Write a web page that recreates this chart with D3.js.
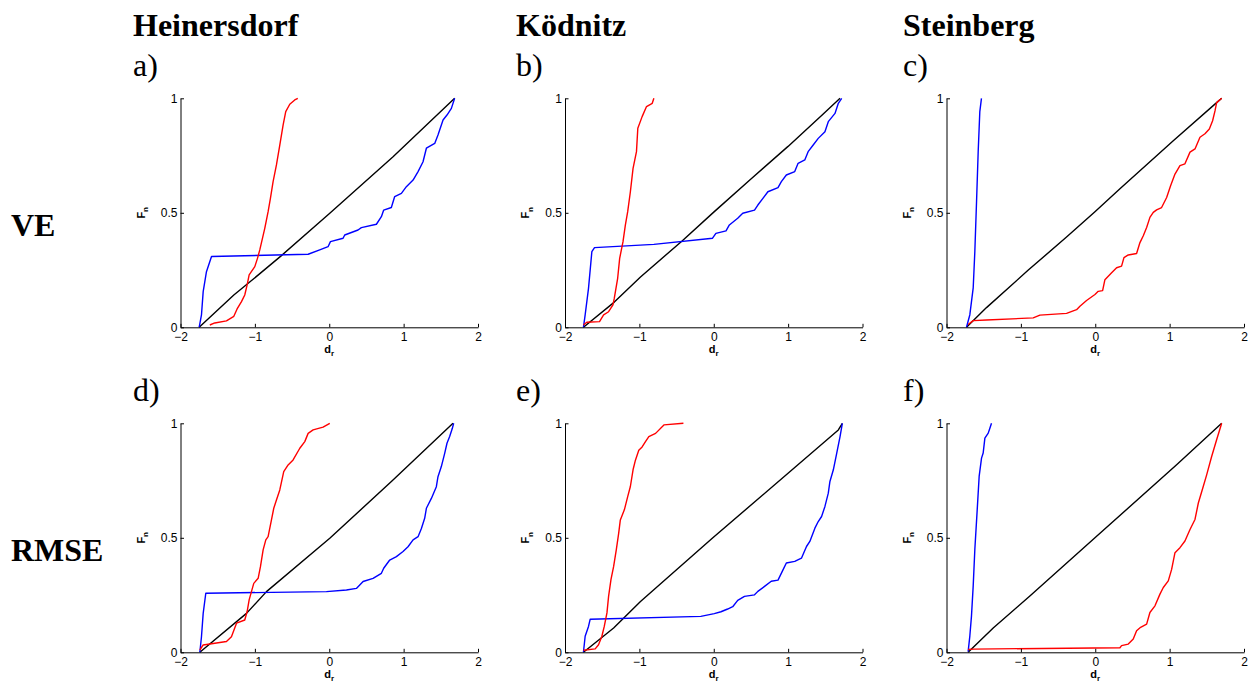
<!DOCTYPE html>
<html>
<head>
<meta charset="utf-8">
<script src="https://cdn.jsdelivr.net/npm/d3@7"></script>
<style>
  html, body { margin: 0; padding: 0; background: #fff; }
  svg { display: block; }
  .tick text { font-family: "Liberation Sans", Arial, sans-serif; font-size: 12px; fill: #000; }
  .axis path, .axis line { stroke: #000; stroke-width: 1; }
  .head { font-family: "Liberation Serif", "Times New Roman", serif; fill: #000; }
  .alabel { font-family: "Liberation Sans", Arial, sans-serif; font-weight: bold; fill: #000; }
</style>
</head>
<body>
<svg id="chart" width="1254" height="686"></svg>
<script>
// Categories and tick labels
const stations = ["Heinersdorf", "Ködnitz", "Steinberg"];
const metrics = ["VE", "RMSE"];
const panelLetters = ["a)", "b)", "c)", "d)", "e)", "f)"];
const xTicks = [-2, -1, 0, 1, 2];
const xTickLabels = ["\u22122", "\u22121", "0", "1", "2"];
const yTicks = [0, 0.5, 1];
const yTickLabels = ["0", "0.5", "1"];

// Empirical distribution functions F_n(d_r), pairs of [d_r, F_n]
const heinersdorfVE_red = [[-1.606,0.010],[-1.539,0.019],[-1.382,0.028],[-1.283,0.048],[-1.239,0.080],[-1.180,0.112],[-1.136,0.141],[-1.104,0.185],[-1.077,0.229],[-1.001,0.265],[-0.965,0.301],[-0.934,0.338],[-0.867,0.432],[-0.822,0.505],[-0.791,0.563],[-0.755,0.636],[-0.710,0.709],[-0.665,0.796],[-0.620,0.884],[-0.585,0.942],[-0.531,0.974],[-0.464,0.993],[-0.423,1.0]];
const heinersdorfVE_blue = [[-1.749,0],[-1.718,0.054],[-1.695,0.156],[-1.651,0.243],[-1.583,0.309],[-0.284,0.319],[-0.128,0.338],[-0.016,0.352],[0.016,0.374],[0.186,0.389],[0.208,0.403],[0.387,0.425],[0.432,0.435],[0.634,0.450],[0.701,0.483],[0.732,0.512],[0.835,0.523],[0.880,0.571],[0.970,0.585],[1.037,0.614],[1.127,0.643],[1.194,0.680],[1.261,0.723],[1.306,0.782],[1.418,0.803],[1.462,0.840],[1.530,0.905],[1.583,0.927],[1.642,0.956],[1.686,1.0]];
const heinersdorfVE_black = [[-1.749,0],[-1.283,0.141],[-1.090,0.192],[-0.643,0.313],[0.007,0.498],[0.858,0.745],[1.686,1.0]];

const koednitzVE_red = [[-1.752,0.010],[-1.707,0.022],[-1.536,0.025],[-1.481,0.054],[-1.414,0.068],[-1.355,0.098],[-1.337,0.127],[-1.292,0.214],[-1.265,0.301],[-1.220,0.374],[-1.188,0.447],[-1.157,0.505],[-1.121,0.592],[-1.085,0.694],[-1.039,0.767],[-1.021,0.869],[-0.963,0.920],[-0.904,0.964],[-0.827,0.978],[-0.805,1.0]];
const koednitzVE_blue = [[-1.752,0],[-1.729,0.054],[-1.684,0.170],[-1.639,0.330],[-1.603,0.348],[-0.805,0.362],[-0.016,0.389],[0.029,0.410],[0.165,0.421],[0.210,0.447],[0.322,0.476],[0.390,0.498],[0.548,0.512],[0.593,0.534],[0.661,0.563],[0.728,0.592],[0.864,0.610],[0.909,0.636],[0.976,0.665],[1.089,0.680],[1.134,0.716],[1.224,0.731],[1.269,0.767],[1.337,0.796],[1.405,0.825],[1.495,0.854],[1.540,0.898],[1.630,0.934],[1.675,0.978],[1.720,1.0]];
const koednitzVE_black = [[-1.752,0],[-1.337,0.110],[-0.985,0.220],[-0.422,0.378],[0.000,0.503],[0.500,0.648],[0.999,0.790],[1.450,0.925],[1.698,1.0]];

const steinbergVE_red = [[-1.709,0.012],[-1.641,0.029],[-1.462,0.032],[-0.834,0.041],[-0.744,0.053],[-0.386,0.061],[-0.251,0.077],[-0.206,0.092],[-0.117,0.117],[-0.004,0.143],[0.040,0.157],[0.099,0.160],[0.130,0.208],[0.220,0.238],[0.287,0.260],[0.354,0.267],[0.386,0.304],[0.444,0.316],[0.556,0.322],[0.601,0.370],[0.646,0.400],[0.691,0.436],[0.735,0.480],[0.780,0.502],[0.825,0.513],[0.892,0.523],[0.960,0.567],[1.013,0.618],[1.072,0.669],[1.139,0.706],[1.206,0.714],[1.274,0.765],[1.341,0.779],[1.408,0.830],[1.475,0.845],[1.534,0.866],[1.578,0.902],[1.610,0.945],[1.632,0.981],[1.700,1.0]];
const steinbergVE_blue = [[-1.731,0],[-1.686,0.055],[-1.641,0.172],[-1.619,0.331],[-1.596,0.549],[-1.574,0.767],[-1.552,0.942],[-1.530,1.0]];
const steinbergVE_black = [[-1.731,0],[-1.462,0.086],[-0.900,0.250],[-0.386,0.394],[-0.004,0.505],[0.332,0.605],[1.049,0.815],[1.632,0.981],[1.700,1.0]];

const heinersdorfRMSE_red = [[-1.740,0.010],[-1.695,0.032],[-1.382,0.047],[-1.315,0.068],[-1.247,0.127],[-1.136,0.141],[-1.104,0.178],[-1.077,0.229],[-1.046,0.265],[-1.015,0.301],[-0.956,0.323],[-0.925,0.374],[-0.889,0.447],[-0.853,0.491],[-0.822,0.505],[-0.777,0.578],[-0.746,0.629],[-0.710,0.665],[-0.665,0.709],[-0.612,0.789],[-0.553,0.818],[-0.486,0.840],[-0.396,0.891],[-0.329,0.920],[-0.284,0.956],[-0.217,0.971],[-0.083,0.983],[0.007,1.0]];
const heinersdorfRMSE_blue = [[-1.740,0],[-1.718,0.068],[-1.695,0.170],[-1.660,0.258],[-0.038,0.265],[0.231,0.272],[0.365,0.279],[0.410,0.294],[0.455,0.309],[0.589,0.323],[0.701,0.345],[0.732,0.367],[0.813,0.403],[0.903,0.418],[0.992,0.440],[1.059,0.461],[1.127,0.491],[1.194,0.505],[1.239,0.541],[1.283,0.585],[1.306,0.629],[1.373,0.672],[1.440,0.723],[1.462,0.767],[1.507,0.811],[1.552,0.869],[1.583,0.913],[1.619,0.942],[1.655,0.978],[1.673,1.0]];
const heinersdorfRMSE_black = [[-1.740,0],[-1.113,0.170],[-0.844,0.265],[0.007,0.498],[0.850,0.750],[1.664,1.0]];

const koednitzRMSE_red = [[-1.752,0.009],[-1.594,0.015],[-1.549,0.033],[-1.504,0.070],[-1.472,0.113],[-1.436,0.172],[-1.414,0.244],[-1.382,0.317],[-1.346,0.375],[-1.310,0.448],[-1.278,0.520],[-1.256,0.578],[-1.202,0.622],[-1.157,0.680],[-1.121,0.724],[-1.085,0.797],[-1.053,0.839],[-1.008,0.882],[-0.963,0.897],[-0.918,0.920],[-0.873,0.942],[-0.782,0.956],[-0.670,0.993],[-0.408,1.0]];
const koednitzRMSE_blue = [[-1.752,0],[-1.729,0.070],[-1.684,0.113],[-1.662,0.144],[-0.174,0.157],[0.007,0.169],[0.097,0.177],[0.187,0.189],[0.255,0.199],[0.322,0.227],[0.413,0.244],[0.548,0.251],[0.593,0.266],[0.683,0.288],[0.773,0.310],[0.864,0.315],[0.931,0.360],[0.976,0.390],[1.089,0.397],[1.179,0.411],[1.247,0.462],[1.292,0.484],[1.360,0.542],[1.405,0.571],[1.450,0.593],[1.495,0.637],[1.540,0.695],[1.562,0.746],[1.608,0.797],[1.653,0.869],[1.698,0.942],[1.729,1.0]];
const koednitzRMSE_black = [[-1.752,0],[-1.346,0.106],[-0.985,0.222],[-0.016,0.499],[0.999,0.782],[1.675,0.971],[1.729,1.0]];

const steinbergRMSE_red = [[-1.709,0.012],[-1.641,0.014],[0.332,0.020],[0.354,0.029],[0.444,0.036],[0.511,0.058],[0.556,0.094],[0.610,0.109],[0.691,0.123],[0.735,0.174],[0.803,0.203],[0.870,0.254],[0.915,0.283],[0.982,0.312],[1.027,0.362],[1.072,0.435],[1.139,0.457],[1.206,0.486],[1.274,0.536],[1.341,0.580],[1.386,0.652],[1.453,0.725],[1.498,0.775],[1.565,0.855],[1.632,0.928],[1.700,1.0]];
const steinbergRMSE_blue = [[-1.709,0.003],[-1.686,0.072],[-1.664,0.159],[-1.641,0.290],[-1.619,0.449],[-1.587,0.623],[-1.561,0.768],[-1.529,0.848],[-1.507,0.870],[-1.484,0.935],[-1.439,0.957],[-1.417,0.978],[-1.395,1.0]];
const steinbergRMSE_black = [[-1.709,0],[-1.372,0.106],[-0.879,0.246],[-0.004,0.500],[1.094,0.819],[1.700,1.0]];

// Panel grid (row = metric, column = station)
const panels = [
  [heinersdorfVE_black, heinersdorfVE_blue, heinersdorfVE_red],
  [koednitzVE_black, koednitzVE_blue, koednitzVE_red],
  [steinbergVE_black, steinbergVE_blue, steinbergVE_red],
  [heinersdorfRMSE_black, heinersdorfRMSE_blue, heinersdorfRMSE_red],
  [koednitzRMSE_black, koednitzRMSE_blue, koednitzRMSE_red],
  [steinbergRMSE_black, steinbergRMSE_blue, steinbergRMSE_red]
];
const seriesColors = ["#000000", "#0000ff", "#ff0000"];

// Layout
const colLeft = [180.5, 565, 946.5];
const plotW = 297.5;
const rowTop = [98.3, 423.3];
const plotH = 229;
const rowShift = 325;

const svg = d3.select("#chart");

// Column headings and panel letters
stations.forEach((s, c) => {
  const tx = [133, 516, 903][c];
  svg.append("text").attr("class", "head").attr("x", tx).attr("y", 36)
    .attr("font-size", 32).attr("font-weight", "bold").text(s);
  for (let r = 0; r < 2; r++) {
    svg.append("text").attr("class", "head").attr("x", tx).attr("y", 76 + r * rowShift)
      .attr("font-size", 32).text(panelLetters[r * 3 + c]);
  }
});

// Row headings
metrics.forEach((m, r) => {
  svg.append("text").attr("class", "head").attr("x", 11).attr("y", 236 + r * rowShift)
    .attr("font-size", 32).attr("font-weight", "bold").text(m);
});

panels.forEach((series, i) => {
  const r = Math.floor(i / 3), c = i % 3;
  const x = d3.scaleLinear().domain([-2, 2]).range([colLeft[c], colLeft[c] + plotW]);
  const y = d3.scaleLinear().domain([0, 1]).range([rowTop[r] + plotH, rowTop[r]]);

  const line = d3.line().x(d => x(d[0])).y(d => y(d[1]));
  series.forEach((pts, k) => {
    svg.append("path").datum(pts)
      .attr("d", line)
      .attr("fill", "none")
      .attr("stroke", seriesColors[k])
      .attr("stroke-width", 1.4)
      .attr("stroke-linejoin", "round");
  });

  svg.append("g").attr("class", "axis")
    .attr("transform", `translate(0,${rowTop[r] + plotH})`)
    .call(d3.axisBottom(x).tickValues(xTicks).tickFormat((d, j) => xTickLabels[j])
      .tickSizeInner(-3.5).tickSizeOuter(0).tickPadding(5.5));

  svg.append("g").attr("class", "axis")
    .attr("transform", `translate(${colLeft[c]},0)`)
    .call(d3.axisLeft(y).tickValues(yTicks).tickFormat((d, j) => yTickLabels[j])
      .tickSizeInner(-3.5).tickSizeOuter(0).tickPadding(3));

  // x-axis label d_r
  const xl = svg.append("text").attr("class", "alabel")
    .attr("x", colLeft[c] + plotW / 2).attr("y", rowTop[r] + plotH + 25.5)
    .attr("text-anchor", "middle").attr("font-size", 11);
  xl.append("tspan").text("d");
  xl.append("tspan").attr("font-size", 8).attr("dy", 3.5).text("r");

  // y-axis label F_n
  const cy = rowTop[r] + plotH / 2;
  const yl = svg.append("text").attr("class", "alabel")
    .attr("transform", `translate(${colLeft[c] - 36},${cy}) rotate(-90)`)
    .attr("text-anchor", "middle").attr("font-size", 11);
  yl.append("tspan").text("F");
  yl.append("tspan").attr("font-size", 8).attr("dy", 3.5).text("n");
});
</script>
</body>
</html>
